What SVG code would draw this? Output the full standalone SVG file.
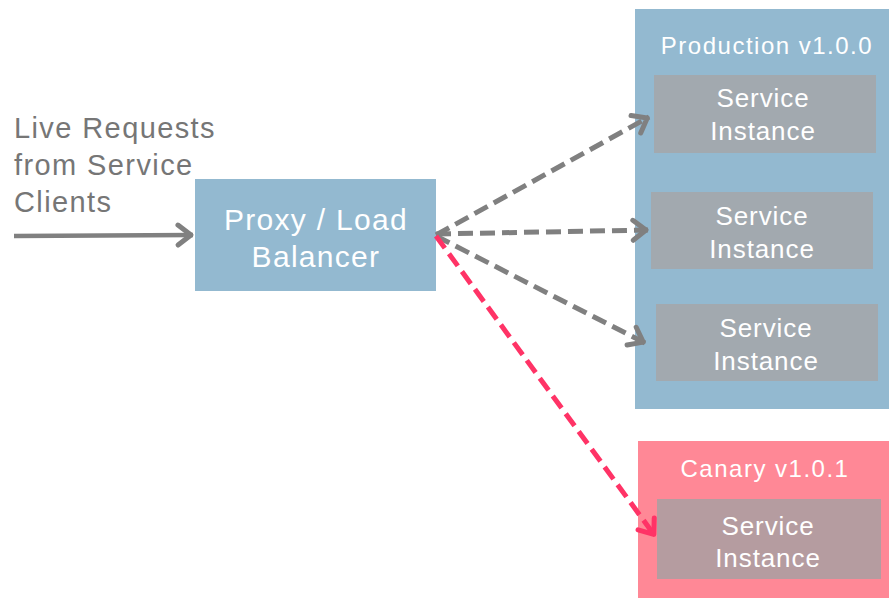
<svg xmlns="http://www.w3.org/2000/svg" width="889" height="598" viewBox="0 0 889 598">
<style>
text{font-family:"Liberation Sans",Arial,sans-serif;text-anchor:middle;fill:#fff}
.lbl{font-size:29px;letter-spacing:1.4px}
.px{font-size:30px;letter-spacing:1.3px}
.grp{font-size:24px;letter-spacing:1.5px}
.si{font-size:26px;letter-spacing:0.9px}
.inst{fill:#a2a9af}
.dash{fill:none;stroke-width:5;stroke-dasharray:15 7}
</style>
<defs>
<marker id="ag" markerUnits="userSpaceOnUse" markerWidth="30" markerHeight="30" refX="2" refY="0" viewBox="-20 -15 30 30" orient="auto" overflow="visible">
<path d="M-13,-10 L0,0 L-13,10" fill="none" stroke="#808080" stroke-width="5" stroke-linecap="round" stroke-linejoin="round"/>
</marker>
<marker id="ar" markerUnits="userSpaceOnUse" markerWidth="30" markerHeight="30" refX="2" refY="0" viewBox="-20 -15 30 30" orient="auto" overflow="visible">
<path d="M-13,-10 L0,0 L-13,10" fill="none" stroke="#ff3366" stroke-width="5" stroke-linecap="round" stroke-linejoin="round"/>
</marker>
</defs>
<rect width="889" height="598" fill="#fff"/>
<g id="clients">
<text x="14" y="138" style="text-anchor:start;fill:#767676" class="lbl">Live Requests</text>
<text x="14" y="175" style="text-anchor:start;fill:#767676" class="lbl">from Service</text>
<text x="14" y="212" style="text-anchor:start;fill:#767676" class="lbl">Clients</text>
</g>
<g id="proxy">
<rect x="195" y="179" width="241" height="112" fill="#93b9d0"/>
<text x="316" y="230" class="px">Proxy / Load</text>
<text x="316" y="267" class="px">Balancer</text>
</g>
<g id="production">
<rect x="635" y="9" width="254" height="400" fill="#93b9d0"/>
<text x="767" y="54" class="grp">Production v1.0.0</text>
</g>
<g id="prod-instance-1">
<rect x="654" y="75" width="222" height="78" class="inst"/>
<text x="763" y="107" class="si">Service</text>
<text x="763" y="140" class="si">Instance</text>
</g>
<g id="prod-instance-2">
<rect x="651" y="192" width="222" height="77" class="inst"/>
<text x="762" y="225" class="si">Service</text>
<text x="762" y="258" class="si">Instance</text>
</g>
<g id="prod-instance-3">
<rect x="656" y="304" width="222" height="77" class="inst"/>
<text x="766" y="337" class="si">Service</text>
<text x="766" y="370" class="si">Instance</text>
</g>
<g id="canary">
<rect x="638" y="441" width="251" height="157" fill="#ff8896"/>
<text x="765" y="477" class="grp">Canary v1.0.1</text>
</g>
<g id="canary-instance">
<rect x="657" y="499" width="224" height="80" fill="#b59ca0"/>
<text x="768" y="535" class="si">Service</text>
<text x="768" y="567" class="si">Instance</text>
</g>
<g id="connectors">
<line x1="14" y1="236" x2="193" y2="235" stroke="#808080" stroke-width="4.5" marker-end="url(#ag)"/>
<line x1="436" y1="235" x2="649" y2="117" stroke="#808080" class="dash" marker-end="url(#ag)"/>
<line x1="436" y1="234" x2="648" y2="230" stroke="#808080" class="dash" marker-end="url(#ag)"/>
<line x1="436" y1="236" x2="645" y2="343" stroke="#808080" class="dash" marker-end="url(#ag)"/>
<line x1="436" y1="236" x2="655" y2="536" stroke="#ff3366" class="dash" marker-end="url(#ar)"/>
</g>
</svg>
